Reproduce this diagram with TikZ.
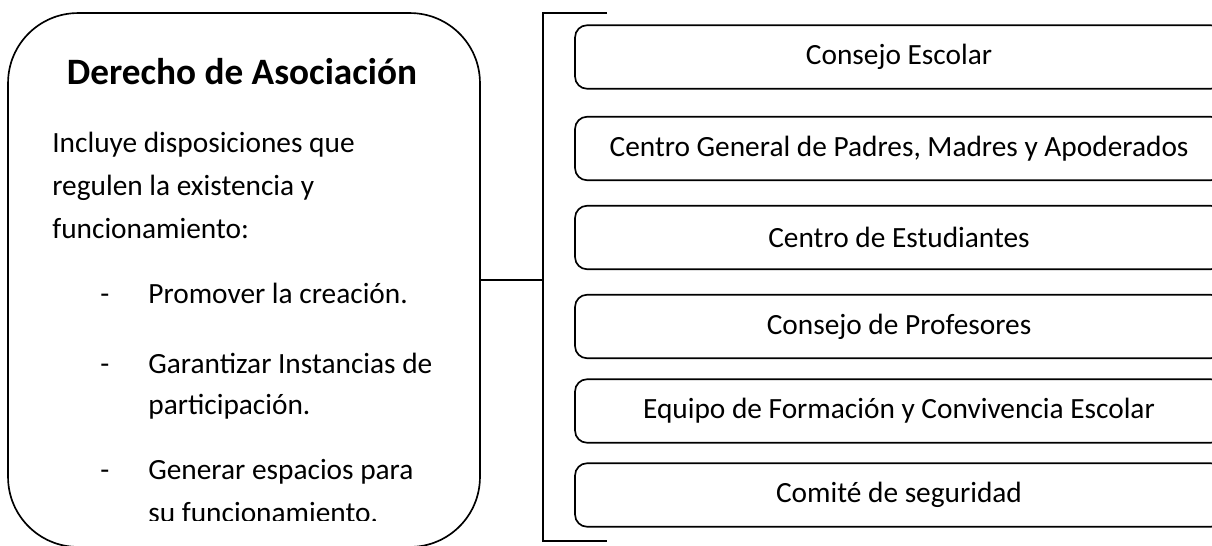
\documentclass[tikz,border=0pt]{standalone}
\usepackage{fontspec}
\setmainfont{Carlito}

\tikzset{
  linea/.style={line width=0.95pt},
  organo/.style={draw, linea, rounded corners=0.24cm, inner sep=0pt,
    minimum width=12.96cm, minimum height=1.27cm,
    font=\fontsize{16.7}{20}\selectfont},
  texto/.style={anchor=base west, inner sep=0pt, font=\fontsize{16.7}{20}\selectfont},
}

\begin{document}
\begin{tikzpicture}[x=0.02cm, y=-0.02cm]
    \useasboundingbox (0,0) rectangle (1212,545);
    \clip (0,0) rectangle (1212,545);

    % caja izquierda
    \node[draw, linea, rounded corners=1.4cm, minimum width=9.44cm, minimum height=10.68cm] (derecho) at (244,280) {};
    \node[anchor=base, inner sep=0pt, font=\fontsize{21.2}{25}\bfseries] (titulo) at (242,84) {Derecho de Asociación};

    \node[texto] (l1) at (52,152) {Incluye disposiciones que};
    \node[texto] (l2) at (52,195) {regulen la existencia y};
    \node[texto] (l3) at (52,238) {funcionamiento:};

    \node[texto] (g1) at (100,303) {-};
    \node[texto] (p1) at (148,303) {Promover la creación.};
    \node[texto] (g2) at (100,373) {-};
    \node[texto] (p2) at (148,373) {Garantizar Instancias de};
    \node[texto] (p2b) at (148,414) {participación.};
    \node[texto] (g3) at (100,479) {-};
    \node[texto] (p3) at (148,479) {Generar espacios para};
    \begin{scope}
        \clip (0,0) rectangle (480,520);
        \node[texto] (p3b) at (148,522) {su funcionamiento.};
    \end{scope}

    % llave
    \coordinate (llsup) at (607,13);
    \coordinate (llinf) at (607,541);
    \coordinate (llmed) at (543,280);
    \draw[linea] (llsup) -- (llsup -| llmed) -- (llinf -| llmed) -- (llinf);
    \draw[linea] (derecho.east) -- (llmed);

    % organos
    \node[organo] (o1) at (899,57) {Consejo Escolar};
    \node[organo] (o2) at (899,148.5) {Centro General de Padres, Madres y Apoderados};
    \node[organo] (o3) at (899,237.5) {Centro de Estudiantes};
    \node[organo] (o4) at (899,326.5) {Consejo de Profesores};
    \node[organo] (o5) at (899,411) {Equipo de Formación y Convivencia Escolar};
    \node[organo] (o6) at (899,495) {Comité de seguridad};

\end{tikzpicture}
\end{document}
